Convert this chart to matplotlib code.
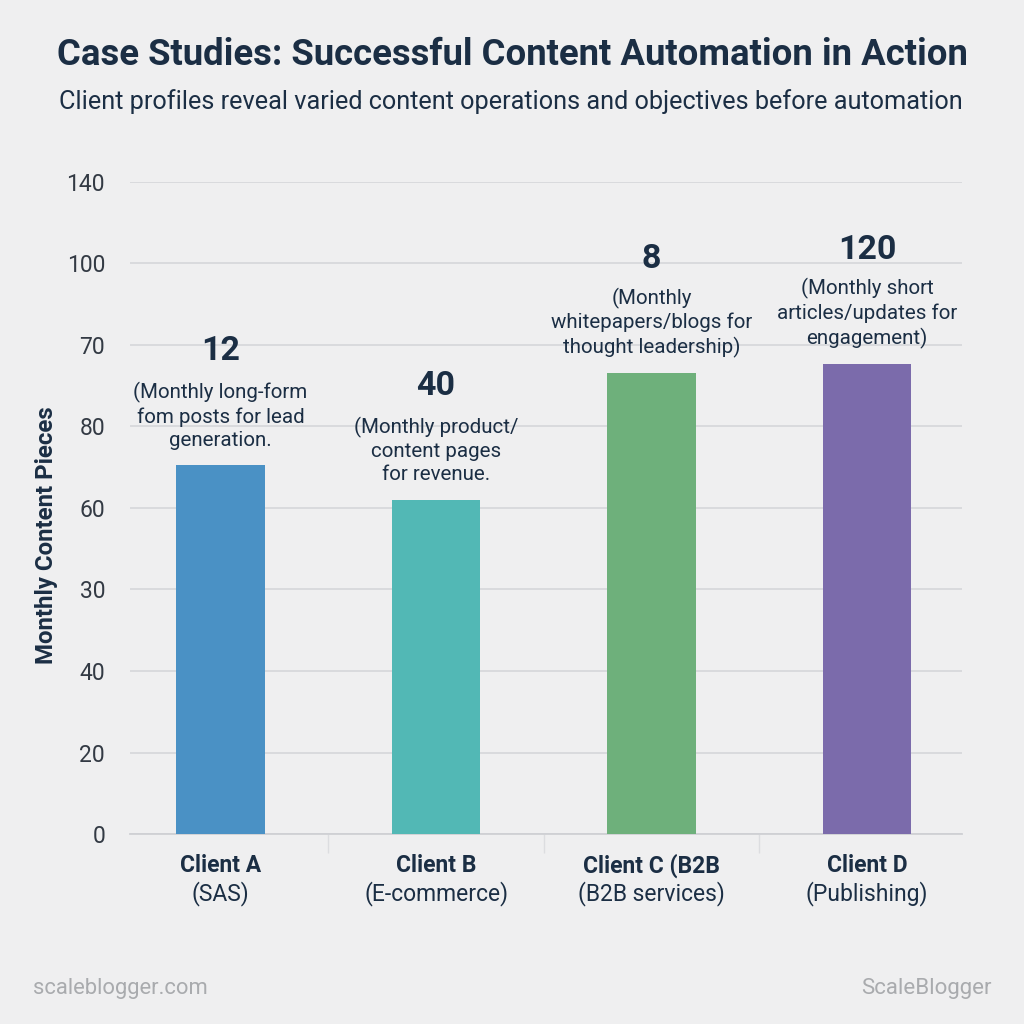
import matplotlib
matplotlib.use("Agg")
import matplotlib.pyplot as plt

# ---- data ----
clients = ["Client A", "Client B", "Client C (B2B", "Client D"]
client_sub = ["(SAS)", "(E-commerce)", "(B2B services)", "(Publishing)"]
bar_heights = [90.5, 82.0, 113.0, 115.3]
value_labels = ["12", "40", "8", "120"]
descriptions = [
    "(Monthly long-form\nfom posts for lead\ngeneration.",
    "(Monthly product/\ncontent pages\nfor revenue.",
    "(Monthly\nwhitepapers/blogs for\nthought leadership)",
    "(Monthly short\narticles/updates for\nengagement)",
]
tick_positions = [0, 20, 40, 60, 80, 100, 120, 140, 160]
tick_labels = ["0", "20", "40", "30", "60", "80", "70", "100", "140"]
colors = ["#4a91c5", "#52b8b5", "#6eb07b", "#7b6bab"]

BG = "#efeff0"
DARK = "#1b2e44"
plt.rcParams['font.family'] = ['Roboto', 'DejaVu Sans']

fig = plt.figure(figsize=(10.24, 10.24), dpi=100, facecolor=BG)
ax = fig.add_axes([0.127, 0.1855, 0.8125, 0.637])
ax.set_facecolor(BG)

x = list(range(len(clients)))
ax.bar(x, bar_heights, width=0.41, color=colors, zorder=3)
ax.set_xlim(-0.42, 3.44)
ax.set_ylim(0, 160)
ax.set_yticks(tick_positions)
ax.set_yticklabels(tick_labels, fontsize=16.5, color="#333a44")
ax.grid(axis="y", color="#d3d4d8", linewidth=1.1, zorder=0)
ax.tick_params(axis="y", length=0, pad=18)
for s in ["top", "right", "left"]:
    ax.spines[s].set_visible(False)
ax.spines["bottom"].set_color("#cfd0d4")
ax.spines["bottom"].set_linewidth(1.3)
ax.set_xticks([0.5, 1.5, 2.5], minor=False)
ax.set_xticklabels([])
ax.tick_params(axis="x", length=14, color="#dcdde0", width=1.0)

for xi, name, sub in zip(x, clients, client_sub):
    ax.annotate(name, (xi, 0), xytext=(0, -22.5), textcoords="offset points",
                ha="center", va="center", fontsize=16.5, fontweight="bold",
                color=DARK, annotation_clip=False)
    ax.annotate(sub, (xi, 0), xytext=(0, -42.5), textcoords="offset points",
                ha="center", va="center", fontsize=16.5, color=DARK,
                annotation_clip=False)

for xi, h, v, d in zip(x, bar_heights, value_labels, descriptions):
    ax.annotate(d, (xi, h), xytext=(0, 11), textcoords="offset points",
                ha="center", va="bottom", fontsize=14.8, color=DARK,
                linespacing=1.28, annotation_clip=False, zorder=4)
    ax.annotate(v, (xi, h), xytext=(0, 82), textcoords="offset points",
                ha="center", va="center", fontsize=24.5, fontweight="bold",
                color=DARK, annotation_clip=False, zorder=4)

fig.text(0.5, 0.946, "Case Studies: Successful Content Automation in Action",
         ha="center", va="center", fontsize=26.3, fontweight="bold", color=DARK)
fig.text(0.499, 0.901, "Client profiles reveal varied content operations and objectives before automation",
         ha="center", va="center", fontsize=18.2, color=DARK)
fig.text(0.045, 0.477, "Monthly Content Pieces", rotation=90, ha="center", va="center",
         fontsize=17.3, fontweight="bold", color=DARK)
fig.text(0.032, 0.035, "scaleblogger.com", ha="left", va="center", fontsize=15.8, color="#a9abae")
fig.text(0.968, 0.035, "ScaleBlogger", ha="right", va="center", fontsize=16, color="#a9abae")

fig.savefig("out.png", dpi=100, facecolor=BG)
